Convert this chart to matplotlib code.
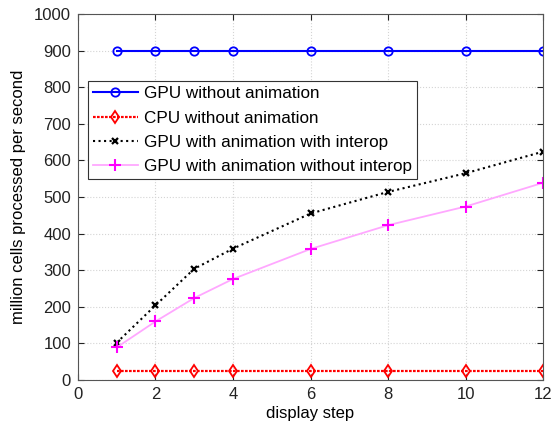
import matplotlib
matplotlib.use('Agg')
from matplotlib import pyplot as plt

steps = [1, 2, 3, 4, 6, 8, 10, 12]
gpu_no_anim = [900, 900, 900, 900, 900, 900, 900, 900]
cpu_no_anim = [25, 25, 25, 25, 25, 25, 25, 25]
gpu_anim_interop = [102, 204, 304, 359, 455, 514, 565, 624]
gpu_anim_no_interop = [89, 160, 224, 276, 358, 423, 474, 539]

plt.rcParams['font.family'] = ['Liberation Sans', 'DejaVu Sans']
plt.rcParams['font.size'] = 12

fig = plt.figure(figsize=(5.57, 4.23), dpi=100)
ax = fig.add_axes([0.140, 0.1017, 0.835, 0.865])

ax.plot(steps, gpu_no_anim, color='blue', lw=1.5, marker='o', ms=6,
        mfc='none', mew=1.3, label='GPU without animation')
ax.plot(steps, cpu_no_anim, color='red', lw=1.6, ls=(0, (1.2, 0.6)), marker='d',
        ms=6, mfc='none', mew=1.3, label='CPU without animation')
ax.plot(steps, gpu_anim_interop, color='black', lw=1.5, ls=':', marker='x',
        ms=4.5, mew=1.6, label='GPU with animation with interop')
ax.plot(steps, gpu_anim_no_interop, color='#ffa8ff', lw=1.3, marker='+',
        ms=8, mec='magenta', mew=1.5, label='GPU with animation without interop')

ax.set_xlim(0, 12)
ax.set_ylim(0, 1000)
ax.set_xticks(range(0, 13, 2))
ax.set_yticks(range(0, 1001, 100))
ax.grid(True, ls=':', color='#d4d4d4', lw=0.8)
ax.tick_params(direction='in', top=True, right=True, length=4, labelsize=12,
               pad=5, colors='#222222')
for s in ax.spines.values():
    s.set_linewidth(0.8)
    s.set_color('#555555')

ax.set_xlabel('display step', labelpad=3)
ax.set_ylabel('million cells processed per second', labelpad=6)

leg = ax.legend(loc='upper left', bbox_to_anchor=(0.0215, 0.817), borderaxespad=0,
                fancybox=False, framealpha=1, edgecolor='#333333', borderpad=0.3,
                labelspacing=0.55, handlelength=2.6, handletextpad=0.35,
                fontsize=12.3)
leg.get_frame().set_linewidth(0.8)

fig.savefig('out.png', dpi=100)
